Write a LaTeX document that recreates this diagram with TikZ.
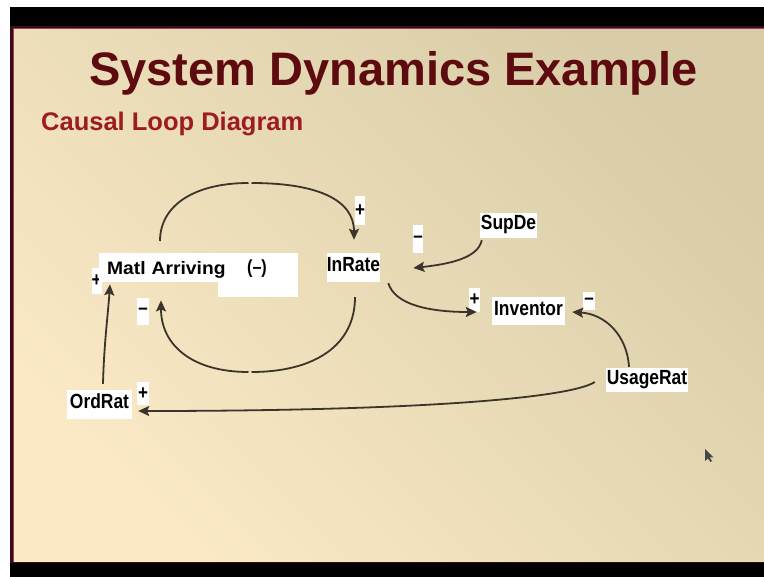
\documentclass[tikz,border=0pt]{standalone}
\usepackage{fontspec}
\setmainfont{Liberation Sans}
\newfontfamily\labfont[FakeStretch=0.85]{Liberation Sans}
\newfontfamily\matlfont[FakeStretch=1.07]{Liberation Sans}
\usetikzlibrary{calc,arrows.meta}
\definecolor{titlered}{HTML}{5E0B10}
\definecolor{subred}{HTML}{9E1B22}
\definecolor{linecol}{HTML}{3B342A}
\definecolor{framered}{HTML}{3E0818}
\definecolor{framepink}{HTML}{8A4A5C}
\definecolor{bgtan}{HTML}{D8CDA8}
\definecolor{bgmid}{HTML}{F0E8C8}
\definecolor{bgpeach}{HTML}{FBE9C6}
\tikzset{
  lab/.style={fill=white, inner sep=0pt, text height=15pt, text depth=6pt,
    font=\labfont\bfseries\fontsize{20.5}{24}\selectfont, text=black},
  sgn/.style={fill=white, inner sep=0pt,
    font=\labfont\bfseries\fontsize{20}{24}\selectfont, text=black},
  conn/.style={draw=linecol, line width=1.8pt},
  tipped/.style={conn, -{Stealth[length=11pt,width=10pt,inset=2pt]}}
}
\begin{document}
\begin{tikzpicture}[x=1pt,y=-1pt]
\useasboundingbox (0,0) rectangle (764,577);
% frame and slide
\fill[white] (0,0) rectangle (764,577);
\fill[black] (10,7) rectangle (764,577);
\fill[framered] (10,26) rectangle (764,563);
\fill[framepink] (13,28.5) rectangle (764,561.8);
\shade[top color=bgtan, middle color=bgmid, bottom color=bgpeach, shading angle=-45]
  (14,30) rectangle (764,561);
% titles
\node[anchor=base, text=titlered, font=\bfseries\fontsize{47}{52}\selectfont, inner sep=0pt]
  (title) at (393.5,86) {System Dynamics Example};
\node[anchor=base west, text=subred, font=\bfseries\fontsize{25.5}{30}\selectfont, inner sep=0pt]
  (subtitle) at (41,131) {Causal Loop Diagram};
% polarity sign hidden partly behind Matl Arriving
\node[sgn, minimum width=10pt, minimum height=26pt] (pmatl) at (96.5,281) {+};
% nodes
\node[fill=white, anchor=north west, inner xsep=8pt, inner ysep=0pt, minimum width=199pt,
  minimum height=29pt, text width=183pt, align=left, text height=13pt, text depth=0pt,
  font=\matlfont\bfseries\fontsize{18}{22}\selectfont] (matl) at (99,253) {Matl Arriving};
\fill[white] ($(matl.south east)+(-80,0)$) rectangle ($(matl.south east)+(0,15)$);
\node[inner sep=0pt, font=\labfont\bfseries\fontsize{19}{22}\selectfont] (loopsign) at (257,268.5) {(–)};
\node[lab, minimum width=53pt, minimum height=29pt] (inrate) at (353.5,267.5) {InRate};
\node[lab, minimum width=57pt, minimum height=25pt] (supde) at (508.5,225.5) {SupDe};
\node[lab, minimum width=73pt, minimum height=28pt] (inventor) at (528.5,311) {Inventor};
\node[lab, minimum width=82pt, minimum height=24pt] (usagerat) at (647,380) {UsageRat};
\node[lab, minimum width=65pt, minimum height=29pt] (ordrat) at (99.5,404.5) {OrdRat};
% polarity signs
\node[sgn, minimum width=12pt, minimum height=27pt] (pmatlb) at (143,311.5) {–};
\node[sgn, minimum width=10pt, minimum height=29pt] (pintop) at (360,210.5) {+};
\node[sgn, minimum width=10pt, minimum height=28pt] (pinright) at (418,239) {–};
\node[sgn, minimum width=11pt, minimum height=24pt] (pinvl) at (474.5,300) {+};
\node[sgn, minimum width=12pt, minimum height=18pt] (pinvr) at (589,301) {–};
\node[sgn, minimum width=12pt, minimum height=23pt] (pord) at (143,393.5) {+};
% loop arcs
\coordinate (ltop) at (250,183);
\coordinate (lbot) at (250,372);
\draw[conn] ($(matl.north west)+(61,-12)$) .. controls (160,205) and (195,183) .. ([xshift=-1.5pt]ltop);
\draw[tipped] ([xshift=1.5pt]ltop) .. controls (318,183) and (354,200) .. ($(inrate.north)+(0.5,-13)$);
\draw[conn] ($(inrate.south)+(1.5,15)$) .. controls (355,345) and (315,372) .. ([xshift=1.5pt]lbot);
\draw[tipped] ([xshift=-1.5pt]lbot) .. controls (192,372) and (161,345) .. ($(matl.south west)+(62,18)$);
% other links
\draw[tipped] ($(ordrat.north)+(3.5,-6)$) .. controls +(1,-40) and +(-2,30) .. ($(matl.south west)+(11,2)$);
\draw[tipped] ($(usagerat.west)+(-11,2)$) .. controls (570,398) and (420,411) .. ($(ordrat.east)+(6,6.5)$);
\draw[tipped] ($(usagerat.north)+(-18,-1)$) .. controls (627,335) and (605,314) .. ($(inventor.east)+(7,1)$);
\draw[tipped] ($(inrate.south east)+(8,1)$) .. controls (395,305) and (430,312) .. ($(inventor.west)+(-15,1)$);
\draw[tipped] ($(supde.south west)+(2,2)$) .. controls (478,258) and (450,264) .. ($(inrate.east)+(33,0.5)$);
% mouse pointer
\fill[gray!55!black] (705,449) -- (705,461) -- (708,458.5) -- (710.5,462) -- (712,461) -- (709.8,457.5) -- (713.5,457.5) -- cycle;
\end{tikzpicture}
\end{document}
